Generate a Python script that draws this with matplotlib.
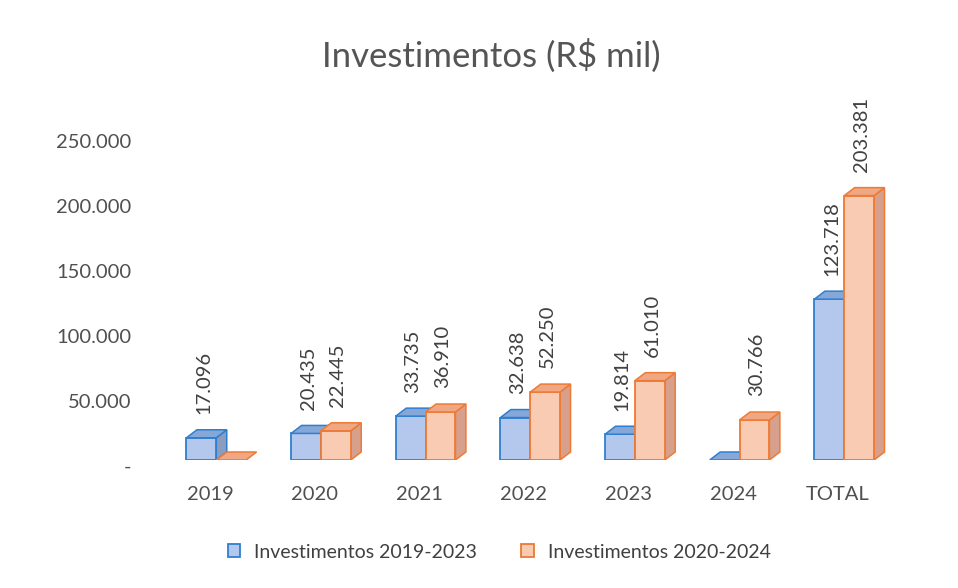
import matplotlib
matplotlib.use("Agg")
import matplotlib.pyplot as plt
from matplotlib.patches import Polygon, Patch
from matplotlib.transforms import ScaledTranslation

categories = ["2019", "2020", "2021", "2022", "2023", "2024", "TOTAL"]
inv_2019_2023 = [17096, 20435, 33735, 32638, 19814, 0, 123718]
inv_2020_2024 = [0, 22445, 36910, 52250, 61010, 30766, 203381]
series_names = ["Investimentos 2019-2023", "Investimentos 2020-2024"]
yticks = [0, 50000, 100000, 150000, 200000, 250000]

plt.rcParams['font.family'] = ['Lato', 'DejaVu Sans']

fig = plt.figure(figsize=(9.58, 5.88), dpi=100)
ax = fig.add_axes([0.1646, 0.2177, 0.7647, 0.619])
ax.set_xlim(-0.5, 6.5)
ax.set_ylim(0, 280000)

styles = [
    dict(front="#b3c8ec", edge="#2f7fd0", top="#86a8d8", side="#8a9dbf"),
    dict(front="#f9cbb3", edge="#ee7a34", top="#f0a784", side="#d6a08c"),
]
width = 0.285
offsets = [-0.0825, 0.2025]
dx = 0.1
dy = 6150

def fmt(v):
    return f"{v:,.0f}".replace(",", ".")

for s, vals in enumerate([inv_2019_2023, inv_2020_2024]):
    st = styles[s]
    xs = [i + offsets[s] for i in range(len(categories))]
    bars = ax.bar(xs, vals, width=width, color=st["front"], edgecolor=st["edge"],
                  linewidth=1.3, zorder=3 + s)
    for b, v in zip(bars, vals):
        x0 = b.get_x(); w = b.get_width(); h = b.get_height()
        top = Polygon([(x0, h), (x0 + w, h), (x0 + w + dx, h + dy), (x0 + dx, h + dy)],
                      closed=True, facecolor=st["top"], edgecolor=st["edge"],
                      linewidth=1.1, zorder=3 + s)
        ax.add_patch(top)
        if h > 0:
            side = Polygon([(x0 + w, 0), (x0 + w + dx, dy), (x0 + w + dx, h + dy), (x0 + w, h)],
                           closed=True, facecolor=st["side"], edgecolor=st["edge"],
                           linewidth=1.1, zorder=2.9 + s)
            ax.add_patch(side)
            ax.annotate(fmt(v), xy=(x0 + w / 2, h), xytext=(1.5, 17),
                        textcoords="offset points", rotation=90,
                        ha="center", va="bottom", fontsize=14.5, color="#404040",
                        annotation_clip=False)

ax.set_xticks(range(len(categories)))
ax.set_xticklabels(categories)
ax.set_yticks(yticks)
ax.set_yticklabels(["-" if t == 0 else fmt(t) for t in yticks])
ax.tick_params(axis="both", length=0, labelsize=14.5, labelcolor="#505050")
ax.tick_params(axis="x", pad=19)
ax.tick_params(axis="y", pad=19)
shift = ScaledTranslation(0, -6 / 100, fig.dpi_scale_trans)
for lab in ax.get_yticklabels():
    lab.set_transform(lab.get_transform() + shift)
for sp in ax.spines.values():
    sp.set_visible(False)

fig.text(0.5125, 0.905, "Investimentos (R$ mil)", ha="center", va="center",
         fontsize=25, color="#555555")

handles = [Patch(facecolor=styles[i]["front"], edgecolor=styles[i]["edge"], linewidth=1.3)
           for i in range(2)]
fig.legend(handles, series_names, loc="center", bbox_to_anchor=(0.521, 0.061), ncol=2,
           frameon=False, fontsize=14, labelcolor="#404040", handlelength=0.65,
           handleheight=0.65, columnspacing=2.3, handletextpad=0.7)

fig.savefig("out.png", dpi=100, facecolor="white")
